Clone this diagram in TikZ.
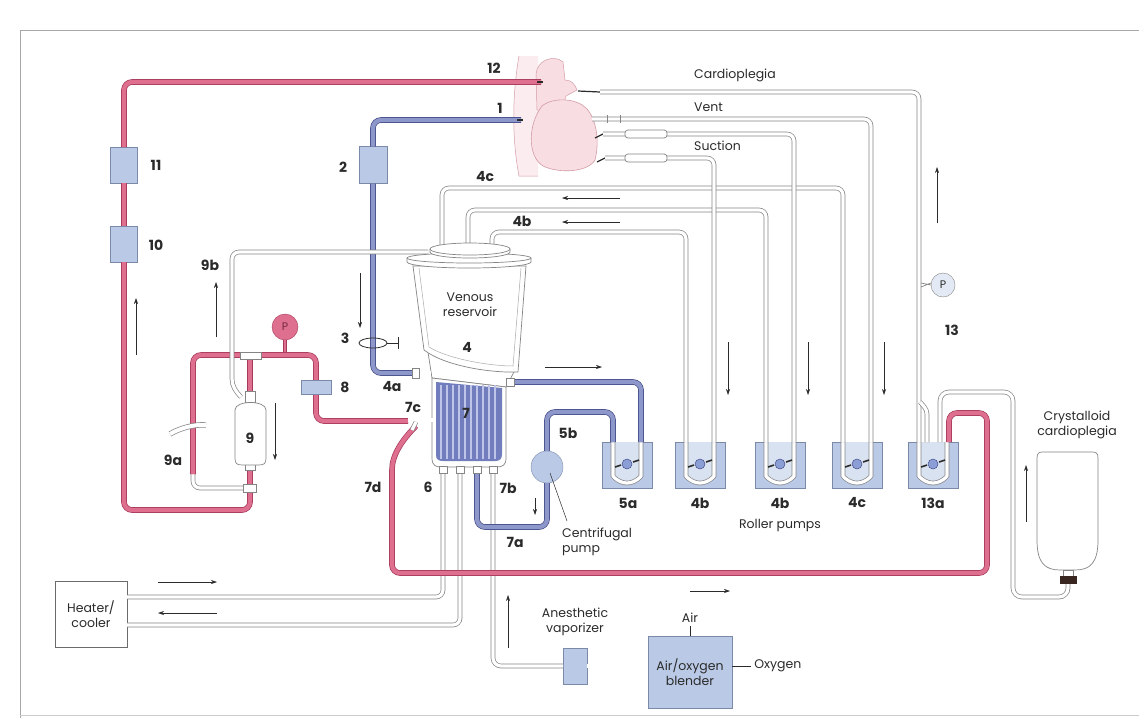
\documentclass[tikz,border=0pt]{standalone}
\usepackage{fontspec}
\setmainfont{Poppins}
\usetikzlibrary{arrows.meta}

\definecolor{ink}{HTML}{2B2B2B}
\definecolor{tubeedge}{HTML}{858585}
\definecolor{artfill}{HTML}{DE6F8E}
\definecolor{artedge}{HTML}{A63A5B}
\definecolor{venfill}{HTML}{8E97C9}
\definecolor{venedge}{HTML}{444D88}
\definecolor{boxfill}{HTML}{BACAE6}
\definecolor{boxedge}{HTML}{7C8AAA}
\definecolor{heartfill}{HTML}{F8DDE2}
\definecolor{heartedge}{HTML}{D49CA8}
\definecolor{oxyfill}{HTML}{717DBC}
\definecolor{oxystripe}{HTML}{BEC5E8}
\definecolor{rotor}{HTML}{8C9ED6}
\definecolor{capbrown}{HTML}{3A2620}
\definecolor{framegray}{HTML}{A8A8A8}

\tikzset{
  tube/.style={draw=tubeedge, line width=0.7pt, double=white, double distance=3.2pt, rounded corners=7pt},
  arttube/.style={draw=artedge, line width=0.7pt, double=artfill, double distance=4.2pt, rounded corners=8pt},
  ventube/.style={draw=venedge, line width=0.7pt, double=venfill, double distance=4.2pt, rounded corners=8pt},
  unit/.style={draw=boxedge, fill=boxfill, line width=0.6pt, inner sep=0pt, outer sep=0pt},
  num/.style={font=\fontsize{14}{14}\selectfont\bfseries, text=ink, inner sep=0pt},
  lbl/.style={font=\fontsize{12.5}{15}\selectfont, text=ink, inner sep=0pt, align=center},
  flow/.style={draw=ink, line width=0.6pt, -{Stealth[length=6pt,width=4pt]}},
  part/.style={draw=tubeedge, fill=white, line width=0.7pt},
  rollerpump/.pic={
    \fill[boxfill, draw=boxedge, line width=0.6pt] (-25,-23) rectangle (25,23);
    \fill[boxfill!55!white] (-14,-23) -- (-14,4) arc[start angle=180, end angle=0, radius=14] -- (14,-23) -- cycle;
    \draw[tube] (-14,-23) -- (-14,4) arc[start angle=180, end angle=0, radius=14] -- (14,-23);
    \filldraw[fill=rotor, draw=venedge, line width=0.5pt] (0,-1) circle (5);
    \draw[ink, line width=1.6pt] (-12,2) -- (-6,0);
    \draw[ink, line width=1.6pt] (6,-3) -- (12,-5);
    \coordinate (-L) at (-14,-23);
    \coordinate (-R) at (14,-23);
  }
}

\begin{document}
\begin{tikzpicture}[x=1pt, y=-1pt]
\useasboundingbox (0,0) rectangle (1139,718);
\fill[white] (0,0) rectangle (1139,718);
% page frame
\draw[framegray, line width=0.8pt] (20,718) -- (20,30) -- (1139,30);
\draw[framegray!60, line width=0.6pt] (20,715) -- (1139,715);

% ---------------- roller pumps
\pic (p5a)  at (627,465) {rollerpump};
\pic (p4b)  at (700,465) {rollerpump};
\pic (p4bb) at (780,465) {rollerpump};
\pic (p4c)  at (857,465) {rollerpump};
\pic (p13a) at (933,465) {rollerpump};

% ---------------- anchors
\coordinate (cArt)  at (541,82);
\coordinate (cVen)  at (521,120);
\coordinate (cCard) at (600,92);
\coordinate (cVent) at (592,119);
\coordinate (cSucA) at (603,134);
\coordinate (cSucB) at (605,158);
\coordinate (r4c)   at (442,256);
\coordinate (r4b)   at (468,246);
\coordinate (r4bb)  at (492,252);
\coordinate (r9b)   at (428,252);
\coordinate (c4a)   at (412,373);
\coordinate (cOut)  at (512,382);
\coordinate (c7c)   at (408,421);
\coordinate (c7d)   at (416,426);
\coordinate (port1) at (443,472);
\coordinate (port2) at (460,472);
\coordinate (port3) at (477,472);
\coordinate (port4) at (493,472);
\coordinate (hA)    at (127,597);
\coordinate (hB)    at (127,625);
\coordinate (bagout) at (1068,584);

% ---------------- heart
% caval vein behind the heart
\fill[heartfill!55!white] (519,56) .. controls (512,95) and (512,140) .. (519,176) -- (538,176) -- (538,56) -- cycle;
\draw[heartedge, line width=0.5pt] (519,56) .. controls (512,95) and (512,140) .. (519,176) -- (538,176);
% aorta
\fill[heartfill, draw=heartedge, line width=0.5pt]
  (537,110) -- (536,74) .. controls (537,60) and (554,54) .. (563,62) -- (565,80)
  .. controls (571,80) and (575,84) .. (577,90) -- (566,96) -- (562,110) -- cycle;
% ventricles
\fill[heartfill, draw=heartedge, line width=0.6pt]
  (542,106) .. controls (528,124) and (527,156) .. (543,166)
  .. controls (560,174) and (588,172) .. (595,160)
  .. controls (600,140) and (596,118) .. (586,108)
  .. controls (576,98) and (553,97) .. (542,106) -- cycle;

% ---------------- return lines to the reservoir
\draw[tube] (r4c)  -- ++(0,-68) -| (p4c-L);
\draw[tube] (r4b)  -- ++(0,-36) -| (p4bb-L);
\draw[tube] (r4bb) -- ++(0,-20) -| (p4b-L);

% ---------------- lines from the heart
\draw[ink, line width=1.2pt] (578,91) -- (cCard);
\draw[tube] (cCard) -| (p13a-L);
\draw[tube] (cVent) -| (p4c-R);
\draw[tubeedge, line width=0.7pt] (607,115) -- (607,123) (620,115) -- (620,123);
\draw[ink, line width=1.2pt] (595,138) -- (cSucA);
\draw[tube] (cSucA) -| (p4bb-R);
\draw[ink, line width=1.2pt] (597,162) -- (cSucB);
\draw[tube] (cSucB) -| (p4b-R);
\draw[part, rounded corners=3pt] (625,130) rectangle (667,138);
\draw[part, rounded corners=3pt] (625,154) rectangle (667,162);

% cardioplegia pressure gauge
\node[draw=tubeedge, fill=boxfill!40!white, circle, minimum size=24pt, inner sep=0pt,
      font=\fontsize{11}{11}\selectfont, text=ink] (pc) at (943,285) {P};
\draw[tubeedge, line width=0.7pt] (921,283) -- (pc.west) (921,287) -- ([yshift=2pt]pc.west);

% branch beside the cardioplegia pump inlet
\draw[tube, rounded corners=4pt] (920,402) -- (927,410) -- (927,442);

% ---------------- venous line
\node[unit, minimum width=28pt, minimum height=37pt] (box2) at (373,165) {};
\draw[ventube] (cVen) -| (box2.north);
\draw[ventube] (box2.south) |- (c4a);
\draw[ink, line width=1.2pt] (517,120) -- (523,120);

% ---------------- arterial line
\node[unit, minimum width=27pt, minimum height=36pt] (box11) at (124,165) {};
\node[unit, minimum width=27pt, minimum height=36pt] (box10) at (124,244) {};
\draw[arttube] (cArt) -| (box11.north);
\draw[arttube] (box11.south) -- (box10.north);
\draw[arttube] (box10.south) -- (124,510) -- (250,510) -- (250,468);
\draw[ink, line width=1.2pt] (537,82) -- (543,82);

% ---------------- filter loop
\draw[tube] (193,470) -- (193,488) -- (247,488);
\draw[arttube] (193,474) -- (193,355) -- (316,355) -- (316,421) -- (c7c);
\draw[arttube, rounded corners=0pt] (250,358) -- (250,392);
\draw[part] (240,352) rectangle (261,359);
\draw[part] (243,484) rectangle (256,492);
\node[unit, minimum width=30pt, minimum height=14pt] (box8) at (316,387) {};
\node[circle, draw=artedge, fill=artfill, minimum size=26pt, inner sep=0pt,
      font=\fontsize{11}{11}\selectfont, text=artedge!70!black] (pr) at (285,327) {P};
\draw[arttube, double distance=2.4pt] (pr.south) -- (285,352);
% 9a stub
\draw[tube, double distance=4pt] (170,434) .. controls (180,428) and (195,424) .. (206,425);
% filter 9
\draw[part] (245,391) rectangle (255,402);
\draw[part] (245,463) rectangle (255,470);
\draw[part] (235,410) .. controls (235,400) and (266,400) .. (266,410) -- (266,458)
  .. controls (266,464) and (264,465) .. (258,465) -- (243,465)
  .. controls (237,465) and (235,464) .. (235,458) -- cycle;
% 9b gas line
\draw[tube] (r9b) -- (232,252) -- (232,372) .. controls (232,386) and (236,392) .. (241,397);

% ---------------- heater / cooler
\node[draw=ink!70, fill=white, line width=0.6pt, minimum width=72pt, minimum height=66pt,
      lbl, align=center] (heater) at (91,614) {Heater/\\cooler};
\draw[tube] (port1) -- (443,597) -- (hA);
\draw[tube] (port2) -- (460,625) -- (hB);

% ---------------- gas supply
\node[unit, minimum width=24pt, minimum height=36pt] (vap) at (575,666) {};
\node[unit, minimum width=84pt, minimum height=72pt, lbl] (blender) at (690,672) {Air/oxygen\\blender};
\draw[tube, rounded corners=8pt] (port4) -- (493,666) -- (vap.west);
\draw[tube] (vap.east) -- (vap.east -| blender.west);
\draw[ink, line width=0.6pt] (blender.north) -- ++(0,-10) node[lbl, above=3pt] (air) {Air};
\draw[ink, line width=0.6pt] (vap.east -| blender.east) -- ++(19,0) node[lbl, right=3pt] (oxy) {Oxygen};
\node[lbl] (anest) at (575,622) {Anesthetic\\vaporizer};

% ---------------- blood pump circuit
\node[circle, draw=boxedge, fill=boxfill, minimum size=32pt, inner sep=0pt] (cp) at (547,467) {};
\draw[ventube] (cOut) -| (p5a-R);
\draw[ventube] (cp.north) -- (547,412) -| (p5a-L);
\draw[ventube] (port3) -- (477,527) -| (cp.south);
\draw[ink, line width=0.5pt] (550,473) -- (567,521);

% ---------------- cardioplegia circuit
\draw[tube, rounded corners=9pt] ([xshift=-7pt]p13a-R) -- (940,392) -- (1013,392) -- (1013,597) -- (1068,597) -- (bagout);
\draw[arttube] (c7d) .. controls (402,440) and (392,455) .. (392,478) -- (392,573) -- (987,573) -- (987,413) -- (949,413) -- ([xshift=2pt]p13a-R);

% crystalloid bag
\draw[part] (1037,540) -- (1037,458) .. controls (1037,453) and (1039,452) .. (1043,452) -- (1092,452)
  .. controls (1096,452) and (1098,453) .. (1098,458) -- (1098,540)
  .. controls (1098,563) and (1090,570) .. (1075,570) -- (1060,570)
  .. controls (1045,570) and (1037,563) .. (1037,540) -- cycle;
\draw[part] (1063,570) rectangle (1073,576);
\fill[capbrown] (1060,576) rectangle (1077,584);

% ---------------- venous reservoir and oxygenator
\draw[part] (428,352) -- (432,378) -- (506,387) -- (514,372) -- cycle;
\draw[part] (413,266) -- (424,350) .. controls (445,366) and (490,373) .. (518,372) -- (526,266) -- cycle;
\draw[tubeedge!70, line width=0.5pt] (419,268) -- (429,347) .. controls (448,359) and (490,366) .. (513,366) -- (521,268);
\draw[part] (407,258) -- (407,262) arc[start angle=180, end angle=0, x radius=62, y radius=6] -- (531,258);
\draw[part] (469,258) ellipse [x radius=62, y radius=5];
\draw[part] (430,249) -- (430,252) arc[start angle=180, end angle=0, x radius=40, y radius=6] -- (510,249);
\draw[part] (470,249) ellipse [x radius=40, y radius=6];

\draw[part] (432,378) -- (432,458) .. controls (432,466) and (436,467) .. (442,467) -- (496,467)
  .. controls (503,467) and (506,465) .. (506,458) -- (506,387) -- cycle;
\fill[oxyfill] (436,382) -- (436,455) .. controls (436,460) and (439,461) .. (444,461) -- (495,461)
  .. controls (500,461) and (502,459) .. (502,454) -- (502,388) -- cycle;
\foreach \x in {441,447,...,499} \draw[oxystripe, line width=1.1pt] (\x,385) -- (\x,459);
\foreach \x in {443,460,477,493} \draw[part] ({\x-4},466) rectangle ({\x+4},473);

% connectors on the reservoir
\draw[tube, rounded corners=0pt] (418,373) -- (431,373);
\draw[part] (c4a) ++(0,-5) rectangle (419,378);
\draw[part] (506,378) rectangle (514,386);
\draw[tube, rounded corners=0pt] (408,420) -- (433,420);
\draw[tube, rounded corners=0pt] (416,422) -- (412,430);

% ---------------- flow arrows
\draw[flow] (136,355) -- (136,298);
\draw[flow] (216,337) -- (216,282);
\draw[flow] (275,403) -- (275,460);
\draw[flow] (360,273) -- (360,328);
\draw[flow] (620,198) -- (562,198);
\draw[flow] (620,222) -- (562,222);
\draw[flow] (545,367) -- (602,367);
\draw[flow] (728,342) -- (728,395);
\draw[flow] (808,342) -- (808,395);
\draw[flow] (884,342) -- (884,395);
\draw[flow] (937,223) -- (937,167);
\draw[flow] (1026,522) -- (1026,465);
\draw[flow] (535,498) -- (535,515);
\draw[flow] (158,582) -- (217,582);
\draw[flow] (217,613) -- (158,613);
\draw[flow] (508,648) -- (508,595);
\draw[flow] (690,591) -- (730,591);

% clamp 3
\draw[ink, line width=0.8pt] (373,343) ellipse [x radius=14, y radius=5];
\draw[ink, line width=0.8pt] (387,343) -- (398,343) (398,337) -- (398,349);

% ---------------- labels
\node[num] (n12) at (494,68) {12};
\node[num] (n1) at (500,108) {1};
\node[num] (n11) at (156,165) {11};
\node[num] (n10) at (156,245) {10};
\node[num] (n2) at (343,167) {2};
\node[num] (n4c) at (485,177) {4c};
\node[num] (n4b) at (522,221) {4b};
\node[num] (n9b) at (210,265) {9b};
\node[num] (n3) at (345,338) {3};
\node[num] (n4) at (467,347) {4};
\node[num] (n8) at (345,387) {8};
\node[num] (n4a) at (392,387) {4a};
\node[num] (n7c) at (413,407) {7c};
\node[num] (n7) at (466,413) {7};
\node[num] (n9) at (250,438) {9};
\node[num] (n9a) at (173,460) {9a};
\node[num] (n7d) at (373,487) {7d};
\node[num] (n6) at (428,487) {6};
\node[num] (n7b) at (508,488) {7b};
\node[num] (n5b) at (568,433) {5b};
\node[num] (n7a) at (515,542) {7a};
\node[num] (n13) at (952,330) {13};
\node[num] (n5a) at (628,503) {5a};
\node[num] (n4bp) at (700,503) {4b};
\node[num] (n4bbp) at (780,503) {4b};
\node[num] (n4cp) at (857,503) {4c};
\node[num] (n13a) at (933,503) {13a};

\node[lbl, anchor=west] (tcard) at (694,75) {Cardioplegia};
\node[lbl, anchor=west] (tvent) at (694,107) {Vent};
\node[lbl, anchor=west] (tsuc) at (694,146) {Suction};
\node[lbl] (tres) at (470,305) {Venous\\reservoir};
\node[lbl] (troll) at (780,525) {Roller pumps};
\node[lbl, align=left, anchor=north west] (tcent) at (562,528) {Centrifugal\\pump};
\node[lbl] (tcry) at (1077,425) {Crystalloid\\cardioplegia};
\end{tikzpicture}
\end{document}
